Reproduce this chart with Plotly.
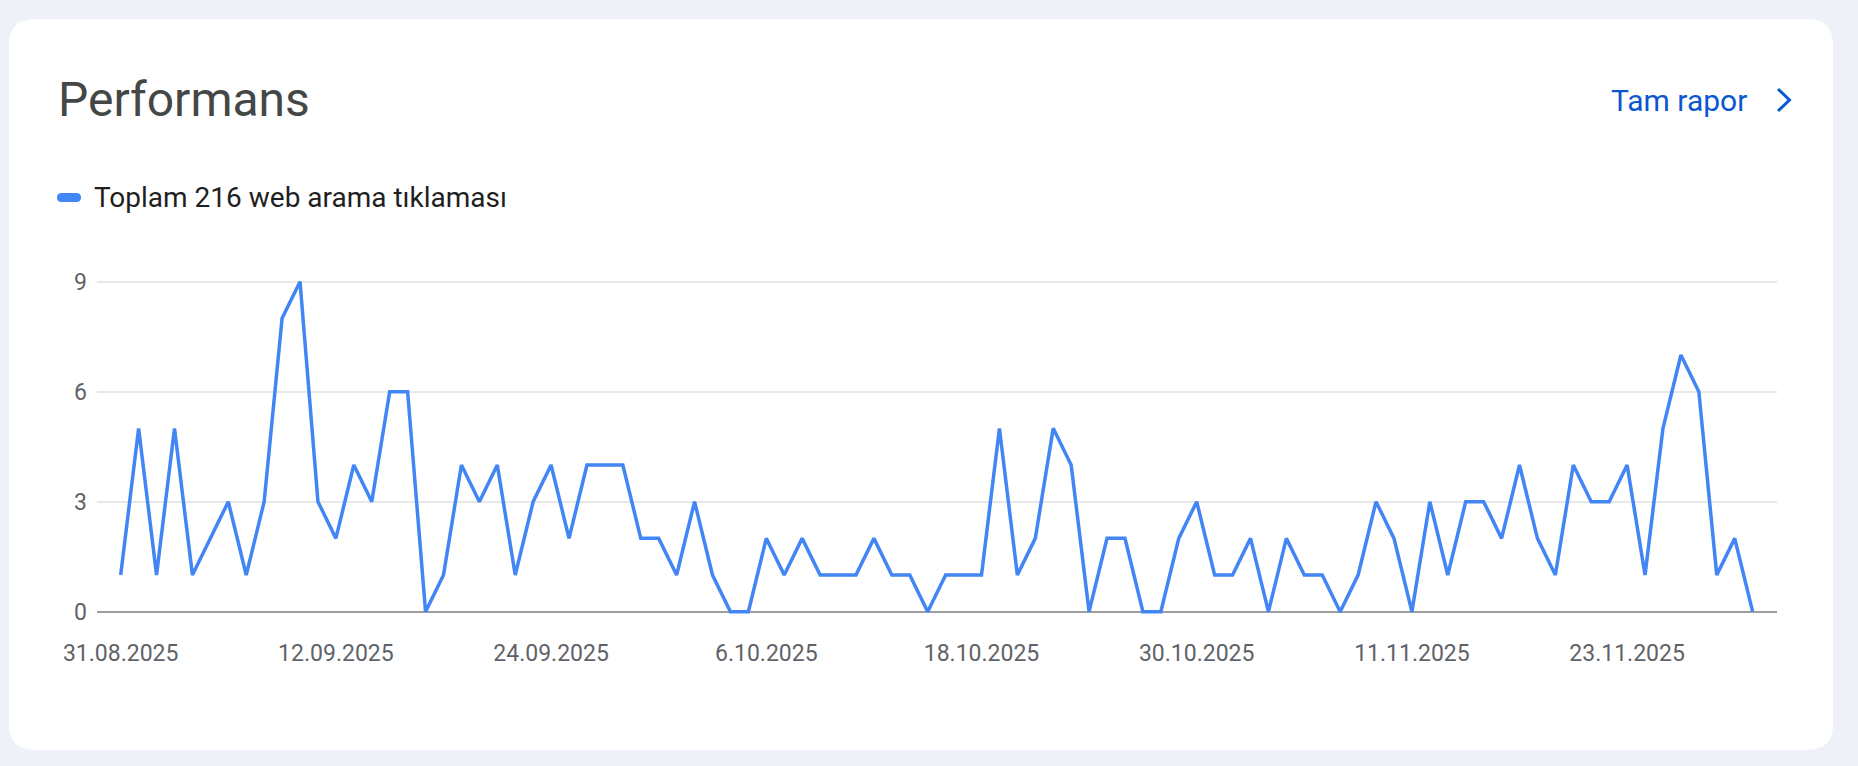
import plotly.graph_objects as go
import pandas as pd

# daily web search clicks, 31.08.2025 - 30.11.2025
start_date = "2025-08-31"
clicks = [1, 5, 1, 5, 1, 2, 3, 1, 3, 8, 9, 3, 2, 4, 3, 6, 6, 0, 1, 4, 3,
          4, 1, 3, 4, 2, 4, 4, 4, 2, 2, 1, 3, 1, 0, 0, 2, 1, 2, 1, 1, 1, 2, 1,
          1, 0, 1, 1, 1, 5, 1, 2, 5, 4, 0, 2, 2, 0, 0, 2, 3, 1, 1, 2, 0, 2, 1, 1,
          0, 1, 3, 2, 0, 3, 1, 3, 3, 2, 4, 2, 1, 4, 3, 3, 4, 1, 5, 7, 6, 1, 2, 0]

tick_dates = ["2025-08-31", "2025-09-12", "2025-09-24", "2025-10-06",
              "2025-10-18", "2025-10-30", "2025-11-11", "2025-11-23"]
tick_labels = ["31.08.2025", "12.09.2025", "24.09.2025", "6.10.2025",
               "18.10.2025", "30.10.2025", "11.11.2025", "23.11.2025"]
y_ticks = [0, 3, 6, 9]

title_text = "Performans"
legend_text = "Toplam %d web arama tıklaması" % sum(clicks)
link_text = "Tam rapor"

days = pd.date_range(start_date, periods=len(clicks), freq="D")

W, H = 1858, 766
L, R, T, B = 97, 1777, 278, 615

BLUE = "#4285f4"
LINK = "#0b57d0"
PAGE_BG = "#eef2f8"
FONT = "Roboto"


def px(x):
    return (x - L) / (R - L)


def py(y):
    return (B - y) / (B - T)


def rounded_rect(x0, y0, x1, y1, r):
    # rounded rectangle path in paper coords, corners as quadratic curves
    pts = [
        ("M", [(x0 + r, y0)]),
        ("L", [(x1 - r, y0)]),
        ("Q", [(x1, y0), (x1, y0 + r)]),
        ("L", [(x1, y1 - r)]),
        ("Q", [(x1, y1), (x1 - r, y1)]),
        ("L", [(x0 + r, y1)]),
        ("Q", [(x0, y1), (x0, y1 - r)]),
        ("L", [(x0, y0 + r)]),
        ("Q", [(x0, y0), (x0 + r, y0)]),
    ]
    s = ""
    for cmd, cs in pts:
        s += cmd + " ".join("%.5f,%.5f" % (px(a), py(b)) for a, b in cs) + " "
    return s + "Z"


fig = go.Figure()
fig.add_trace(go.Scatter(
    x=days, y=clicks, mode="lines",
    line=dict(color=BLUE, width=3.5),
    hoverinfo="x+y", showlegend=False,
))

shapes = [
    # white card
    dict(type="path", xref="paper", yref="paper", layer="below",
         path=rounded_rect(9, 19, 1833, 750, 26),
         fillcolor="white", line=dict(width=0)),
    # legend marker
    dict(type="path", xref="paper", yref="paper",
         path=rounded_rect(57, 193, 81, 202, 4.5),
         fillcolor=BLUE, line=dict(width=0)),
    # chevron of the link
    dict(type="path", xref="paper", yref="paper",
         path="M%.5f,%.5f L%.5f,%.5f L%.5f,%.5f" % (
             px(1778), py(89), px(1789.5), py(100), px(1778), py(111)),
         line=dict(color=LINK, width=3)),
]

annotations = [
    dict(text=title_text, x=px(56), y=py(99), xref="paper", yref="paper",
         xanchor="left", yanchor="middle", showarrow=False,
         font=dict(family=FONT, size=48, color="#444746")),
    dict(text=legend_text, x=px(92), y=py(197), xref="paper", yref="paper",
         xanchor="left", yanchor="middle", showarrow=False,
         font=dict(family=FONT, size=28, color="#1f1f1f")),
    dict(text=link_text, x=px(1749), y=py(100), xref="paper", yref="paper",
         xanchor="right", yanchor="middle", showarrow=False,
         font=dict(family=FONT, size=30, color=LINK)),
]

x0 = days[0] - pd.Timedelta(hours=31.7)
x1 = days[-1] + pd.Timedelta(hours=32.6)

fig.update_layout(
    width=W, height=H,
    margin=dict(l=L, r=W - R, t=T, b=H - B, pad=0),
    paper_bgcolor=PAGE_BG,
    plot_bgcolor="rgba(0,0,0,0)",
    font=dict(family=FONT),
    shapes=shapes,
    annotations=annotations,
    showlegend=False,
    xaxis=dict(
        range=[x0, x1],
        tickmode="array", tickvals=tick_dates, ticktext=tick_labels,
        showgrid=False, zeroline=False, showline=False,
        ticks="", ticklabelstandoff=22,
        tickfont=dict(family=FONT, size=23, color="#5f6368"),
    ),
    yaxis=dict(
        range=[-0.09, 9.1],
        tickmode="array", tickvals=y_ticks,
        showgrid=True, gridcolor="#e8e8e8", gridwidth=1.5,
        zeroline=True, zerolinecolor="#9e9e9e", zerolinewidth=2,
        showline=False, ticks="", ticklabelstandoff=9,
        tickfont=dict(family=FONT, size=23, color="#5f6368"),
    ),
)

fig.write_html("out.html", config=dict(displayModeBar=False),
               post_script="document.body.style.margin='0';")
